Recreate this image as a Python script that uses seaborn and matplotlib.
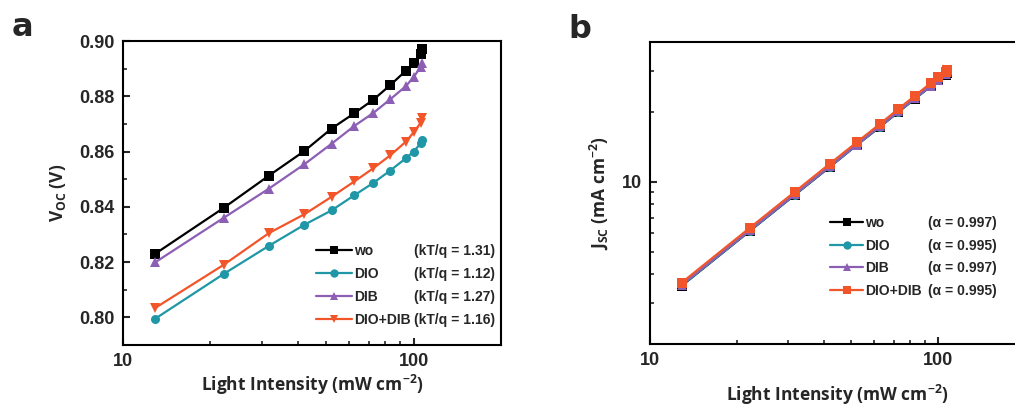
import numpy as np
import pandas as pd
import matplotlib
matplotlib.use("Agg")
import matplotlib.pyplot as plt
import seaborn as sns
from matplotlib.lines import Line2D
from matplotlib.ticker import LogLocator, NullFormatter, FuncFormatter, MultipleLocator

# ---------------- data ----------------
samples = ["wo", "DIO", "DIB", "DIO+DIB"]
intensity = [12.9, 22.2, 31.8, 42.1, 52.2, 62.6, 72.8, 83.1, 94.2, 100.0, 106.0, 107.0]

voc_wo = [0.8230, 0.8396, 0.8513, 0.8602, 0.8683, 0.8739, 0.8788, 0.8840, 0.8893, 0.8919, 0.8952, 0.8970]
voc_dio = [0.7995, 0.8157, 0.8259, 0.8335, 0.8387, 0.8442, 0.8487, 0.8531, 0.8576, 0.8600, 0.8630, 0.8642]
voc_dib = [0.8199, 0.8360, 0.8466, 0.8554, 0.8628, 0.8693, 0.8740, 0.8789, 0.8837, 0.8869, 0.8907, 0.8922]
voc_diodib = [0.8034, 0.8190, 0.8305, 0.8373, 0.8436, 0.8492, 0.8540, 0.8586, 0.8636, 0.8669, 0.8705, 0.8720]

jsc_wo = [3.57, 6.14, 8.78, 11.60, 14.40, 17.20, 20.00, 22.80, 25.80, 27.40, 28.90, 29.50]
jsc_dio = [3.58, 6.15, 8.80, 11.62, 14.40, 17.25, 20.00, 22.85, 25.85, 27.40, 29.00, 29.55]
jsc_dib = [3.60, 6.18, 8.83, 11.66, 14.45, 17.30, 20.10, 22.90, 25.90, 27.50, 29.10, 29.65]
jsc_diodib = [3.68, 6.33, 9.05, 11.97, 14.80, 17.70, 20.60, 23.50, 26.60, 28.20, 29.80, 30.40]

kTq_labels = ["(kT/q = 1.31)", "(kT/q = 1.12)", "(kT/q = 1.27)", "(kT/q = 1.16)"]
alpha_labels = ["(α = 0.997)", "(α = 0.995)", "(α = 0.997)", "(α = 0.995)"]

colors = ["#000000", "#1f97a6", "#8c5fb4", "#f2552a"]
markers_a = ["s", "o", "^", "v"]
markers_b = ["s", "o", "^", "s"]

voc = {"wo": voc_wo, "DIO": voc_dio, "DIB": voc_dib, "DIO+DIB": voc_diodib}
jsc = {"wo": jsc_wo, "DIO": jsc_dio, "DIB": jsc_dib, "DIO+DIB": jsc_diodib}

rows = []
for s in samples:
    for i, x in enumerate(intensity):
        rows.append({"sample": s, "I": x, "Voc": voc[s][i], "Jsc": jsc[s][i]})
df = pd.DataFrame(rows)

# ---------------- style ----------------
sns.set_style("ticks")
plt.rcParams["font.family"] = ["Liberation Sans", "DejaVu Sans"]
plt.rcParams["font.weight"] = "bold"
plt.rcParams["mathtext.fontset"] = "custom"
plt.rcParams["mathtext.rm"] = "Open Sans:bold"
plt.rcParams["mathtext.it"] = "Open Sans:bold"
plt.rcParams["mathtext.bf"] = "Open Sans:bold"

W, H = 1015, 408
fig = plt.figure(figsize=(W / 100, H / 100), dpi=100)

def fig_rect(l, t, r, b):
    return [l / W, 1 - b / H, (r - l) / W, (b - t) / H]

axA = fig.add_axes(fig_rect(123, 41, 501, 345))
axB = fig.add_axes(fig_rect(650, 42, 1025, 344))

label_font = dict(family=["Open Sans", "DejaVu Sans"], weight="bold", size=12.5)

def style_axis(ax):
    for sp in ax.spines.values():
        sp.set_linewidth(1.5)
        sp.set_color("black")
    ax.tick_params(axis="both", which="major", direction="in", length=5, width=1.5,
                   labelsize=13, pad=6, top=False, right=False)
    ax.tick_params(axis="both", which="minor", direction="in", length=3, width=1.2,
                   top=False, right=False)
    for lab in ax.get_xticklabels() + ax.get_yticklabels():
        lab.set_fontweight("bold")

# ---------- panel a ----------
sns.lineplot(data=df, x="I", y="Voc", hue="sample", style="sample", hue_order=samples,
             style_order=samples, palette=colors, markers=markers_a, dashes=False,
             estimator=None, sort=False, ax=axA, legend=False, linewidth=1.6,
             markersize=6.5, markeredgewidth=0)
axA.set_xscale("log")
axA.set_xlim(10, 200)
axA.set_ylim(0.79, 0.90)
axA.yaxis.set_major_locator(MultipleLocator(0.02))
axA.yaxis.set_minor_locator(MultipleLocator(0.01))
axA.yaxis.set_major_formatter(FuncFormatter(lambda v, p: f"{v:.2f}"))
axA.xaxis.set_major_locator(LogLocator(base=10))
axA.xaxis.set_minor_locator(LogLocator(base=10, subs=np.arange(2, 10)))
axA.xaxis.set_minor_formatter(NullFormatter())
axA.xaxis.set_major_formatter(FuncFormatter(lambda v, p: f"{v:g}"))
style_axis(axA)
axA.set_xlabel("Light Intensity (mW cm$^{-2}$)", labelpad=2, **label_font)
axA.set_ylabel("V$_{\\mathregular{OC}}$ (V)", labelpad=8, **label_font)

# ---------- panel b ----------
sns.lineplot(data=df, x="I", y="Jsc", hue="sample", style="sample", hue_order=samples,
             style_order=samples, palette=colors, markers=markers_b, dashes=False,
             estimator=None, sort=False, ax=axB, legend=False, linewidth=1.6,
             markersize=6.5, markeredgewidth=0)
axB.set_xscale("log")
axB.set_yscale("log")
axB.set_xlim(10, 200)
axB.set_ylim(2, 40)
for axis in (axB.xaxis, axB.yaxis):
    axis.set_major_locator(LogLocator(base=10))
    axis.set_minor_locator(LogLocator(base=10, subs=np.arange(2, 10)))
    axis.set_minor_formatter(NullFormatter())
    axis.set_major_formatter(FuncFormatter(lambda v, p: f"{v:g}"))
style_axis(axB)
axB.spines["right"].set_visible(False)
axB.set_xlabel("Light Intensity (mW cm$^{-2}$)", labelpad=10, **label_font)
axB.set_ylabel("J$_{\\mathregular{SC}}$ (mA cm$^{-2}$)", labelpad=8, **label_font)

# ---------- legends ----------
def make_legend(ax, markers, extra, anchor_px, hl, cs, ls):
    handles = [Line2D([], [], color=c, marker=m, markersize=6, linewidth=1.6,
                      markeredgewidth=0) for c, m in zip(colors, markers)]
    blanks = [Line2D([], [], color="none") for _ in samples]
    leg = ax.legend(handles + blanks, samples + extra, ncol=2, frameon=False,
                    loc="upper left", bbox_to_anchor=(anchor_px[0] / W, 1 - anchor_px[1] / H),
                    bbox_transform=fig.transFigure, borderpad=0, borderaxespad=0,
                    handlelength=hl, handletextpad=0.15, labelspacing=ls,
                    columnspacing=cs, prop=dict(family="Liberation Sans", weight="bold", size=10))
    return leg

make_legend(axA, markers_a, kTq_labels, (316, 244), 2.6, -2.5, 0.65)
make_legend(axB, markers_b, alpha_labels, (830, 216), 2.4, -2.12, 0.62)

# panel letters
fig.text(12 / W, 1 - 28 / H, "a", fontsize=23, fontweight="bold", va="center", ha="left",
         family=["DejaVu Sans"])
fig.text(568 / W, 1 - 30 / H, "b", fontsize=23, fontweight="bold", va="center", ha="left",
         family=["DejaVu Sans"])

fig.savefig("out.png", dpi=100)
